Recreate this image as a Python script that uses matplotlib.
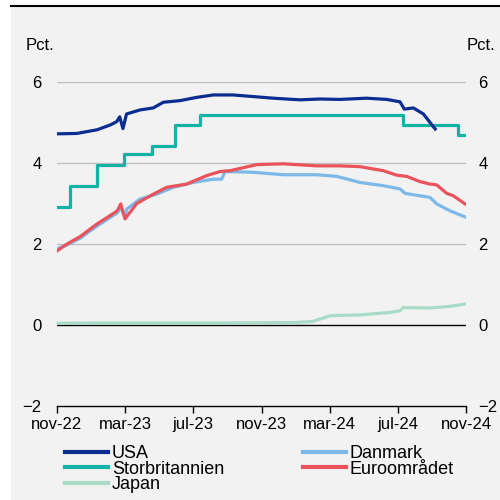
import matplotlib
matplotlib.use("Agg")
import matplotlib.pyplot as plt
from matplotlib.patches import Rectangle
from matplotlib.lines import Line2D

plt.rcParams['font.family'] = ['Liberation Sans', 'DejaVu Sans']

# x in months since nov-22
tick_pos = [0, 4, 8, 12, 16, 20, 24]
tick_labels = ["nov-22", "mar-23", "jul-23", "nov-23", "mar-24", "jul-24", "nov-24"]

usa_t = [0.0, 1.17, 2.35, 3.13, 3.5, 3.68, 3.87, 4.08, 4.87, 5.65, 6.24, 7.22, 8.19, 9.17, 10.33, 11.52, 12.69, 14.25, 15.43, 16.6, 18.17, 19.35, 20.13, 20.38, 20.91, 21.5, 21.89, 22.19]
usa_v = [4.72, 4.73, 4.82, 4.94, 5.02, 5.14, 4.85, 5.21, 5.31, 5.36, 5.5, 5.54, 5.62, 5.68, 5.68, 5.64, 5.6, 5.56, 5.58, 5.57, 5.6, 5.57, 5.51, 5.33, 5.36, 5.21, 5.0, 4.84]

uk_t = [0.0, 0.76, 2.33, 3.96, 5.56, 6.95, 8.39, 20.3, 23.53, 24.0]
uk_v = [2.92, 3.43, 3.94, 4.21, 4.42, 4.93, 5.19, 4.95, 4.70, 4.70]

eur_t = [0.0, 0.59, 1.35, 2.33, 3.11, 3.54, 3.74, 3.99, 4.68, 5.65, 6.44, 7.61, 8.79, 9.57, 10.16, 11.72, 13.28, 15.24, 16.6, 17.78, 19.15, 19.93, 20.52, 21.3, 21.89, 22.28, 22.87, 23.26, 23.94]
eur_v = [1.83, 2.0, 2.18, 2.49, 2.7, 2.82, 2.99, 2.62, 3.0, 3.23, 3.4, 3.48, 3.69, 3.79, 3.81, 3.96, 3.98, 3.93, 3.93, 3.91, 3.81, 3.7, 3.67, 3.54, 3.48, 3.46, 3.25, 3.19, 2.99]

dk_t = [0.0, 0.59, 1.35, 2.33, 3.11, 3.54, 3.74, 3.99, 4.09, 4.87, 5.84, 6.83, 8.0, 9.17, 9.66, 9.86, 11.52, 13.28, 15.24, 16.41, 17.78, 19.15, 20.13, 20.42, 21.89, 22.28, 23.06, 23.94]
dk_v = [1.88, 1.98, 2.14, 2.44, 2.65, 2.77, 2.9, 2.68, 2.86, 3.11, 3.23, 3.4, 3.52, 3.6, 3.6, 3.79, 3.77, 3.71, 3.71, 3.67, 3.52, 3.44, 3.36, 3.25, 3.15, 2.99, 2.82, 2.67]

jp_t = [0.0, 1.94, 5.0, 10.0, 14.02, 15.02, 16.03, 17.78, 19.54, 20.13, 20.31, 21.89, 23.06, 24.0]
jp_v = [0.04, 0.05, 0.05, 0.05, 0.06, 0.09, 0.23, 0.25, 0.31, 0.35, 0.43, 0.42, 0.46, 0.52]

c_usa = "#0b2d8f"
c_dk = "#7db9e8"
c_uk = "#12b3a5"
c_eur = "#ea535c"
c_jp = "#a9dcc6"

fig = plt.figure(figsize=(5, 5), dpi=100)
fig.patch.set_facecolor("white")
fig.add_artist(Rectangle((11/500, 0), 489/500, 1 - 7/500, transform=fig.transFigure,
                         facecolor="#f2f2f2", edgecolor="none", zorder=-10))
fig.add_artist(Line2D([11/500, 1], [1 - 6/500, 1 - 6/500], transform=fig.transFigure,
                      color="black", lw=1.5))

ax = fig.add_axes([57/500, 1 - 406/500, (466 - 57)/500, (406 - 82)/500])
ax.set_facecolor("none")
ax.set_xlim(0, 24)
ax.set_ylim(-2, 6)

for y in [2, 4, 6]:
    ax.axhline(y, color="#bfbfbf", lw=1.0, zorder=0)
ax.axhline(0, color="black", lw=1.0, zorder=1)

lw = 2.3
ax.plot(jp_t, jp_v, color=c_jp, lw=lw, label="Japan", zorder=2)
ax.plot(dk_t, dk_v, color=c_dk, lw=lw, label="Danmark", zorder=3)
ax.plot(eur_t, eur_v, color=c_eur, lw=lw, label="Euroområdet", zorder=4)
ax.step(uk_t, uk_v, where="post", color=c_uk, lw=lw, label="Storbritannien", zorder=5)
ax.plot(usa_t, usa_v, color=c_usa, lw=lw, label="USA", zorder=6)

for s in ["top", "left", "right"]:
    ax.spines[s].set_visible(False)
ax.spines["bottom"].set_color("black")
ax.spines["bottom"].set_linewidth(1.0)

ax.set_xticks(tick_pos)
ax.set_xticklabels(tick_labels)
ax.tick_params(axis="x", direction="out", length=5, width=1, labelsize=12, pad=3)
ax.set_yticks([-2, 0, 2, 4, 6])
ax.tick_params(axis="y", length=0, labelsize=12, pad=11, left=True, right=True,
               labelleft=True, labelright=False)
ax2 = ax.twinx()
ax2.set_ylim(ax.get_ylim())
ax2.set_yticks([-2, 0, 2, 4, 6])
for s in ["top", "left", "right", "bottom"]:
    ax2.spines[s].set_visible(False)
ax2.tick_params(axis="y", length=0, labelsize=12, pad=9)

fig.text(26/500, 1 - 45/500, "Pct.", fontsize=12, ha="left", va="center")
fig.text(495/500, 1 - 45/500, "Pct.", fontsize=12, ha="right", va="center")

h = {l.get_label(): l for l in ax.get_lines()}
# matplotlib fills legend columns first
order = ["USA", "Storbritannien", "Japan", "Danmark", "Euroområdet"]
handles = [Line2D([], [], color=h[k].get_color(), lw=3) for k in order]
leg = fig.legend(handles, order, loc="upper left", bbox_to_anchor=(65/500, 1 - 445/500),
                 ncol=2, frameon=False, fontsize=13, handlelength=2.4, handletextpad=0.2,
                 labelspacing=-0.08, columnspacing=4.35, borderaxespad=0, borderpad=0)

fig.savefig("out.png", dpi=100, facecolor=fig.get_facecolor())
